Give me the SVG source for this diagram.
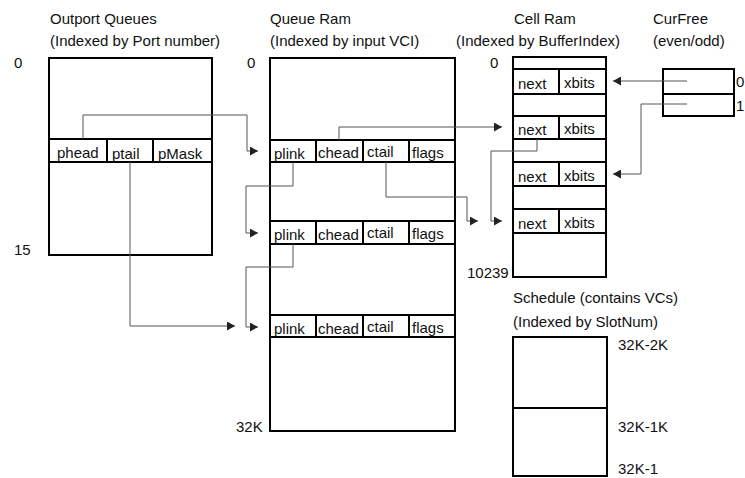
<svg xmlns="http://www.w3.org/2000/svg" width="745" height="478" viewBox="0 0 745 478">
<defs>
<marker id="arr" markerWidth="9" markerHeight="9" refX="8" refY="4.5" orient="auto" markerUnits="userSpaceOnUse">
<path d="M0,0 L8,4.5 L0,9 Z" fill="#222"/>
</marker>
</defs>
<style>
text{font-family:"Liberation Sans",Arial,sans-serif;font-size:15px;fill:#111}
.box{fill:#fff;stroke:#000;stroke-width:2}
.cell{fill:none;stroke:#000;stroke-width:2}
.con{fill:none;stroke:#555;stroke-width:1}
</style>
<rect width="745" height="478" fill="#fff"/>

<g id="outport">
<text x="50" y="24">Outport Queues</text>
<text x="50" y="46">(Indexed by Port number)</text>
<text x="14" y="68">0</text>
<text x="14" y="255">15</text>
<rect class="box" x="49" y="58" width="163" height="197"/>
<rect class="cell" x="49" y="139" width="163" height="23"/>
<line class="cell" x1="107" y1="139" x2="107" y2="162"/>
<line class="cell" x1="153" y1="139" x2="153" y2="162"/>
<text x="57" y="158">phead</text>
<text x="112" y="159">ptail</text>
<text x="158" y="159">pMask</text>
</g>

<g id="queueram">
<text x="270" y="24">Queue Ram</text>
<text x="270" y="46">(Indexed by input VCI)</text>
<text x="247" y="68">0</text>
<text x="236" y="432">32K</text>
<rect class="box" x="270" y="58" width="185" height="373"/>
<g>
<rect class="cell" x="270" y="140" width="185" height="22"/>
<line class="cell" x1="316" y1="140" x2="316" y2="162"/>
<line class="cell" x1="363" y1="140" x2="363" y2="162"/>
<line class="cell" x1="409" y1="140" x2="409" y2="162"/>
<text x="274" y="159">plink</text>
<text x="318" y="158">chead</text>
<text x="367" y="157">ctail</text>
<text x="412" y="158">flags</text>
</g>
<g>
<rect class="cell" x="270" y="221" width="185" height="23"/>
<line class="cell" x1="316" y1="221" x2="316" y2="244"/>
<line class="cell" x1="363" y1="221" x2="363" y2="244"/>
<line class="cell" x1="409" y1="221" x2="409" y2="244"/>
<text x="274" y="240">plink</text>
<text x="318" y="240">chead</text>
<text x="367" y="238">ctail</text>
<text x="412" y="239">flags</text>
</g>
<g>
<rect class="cell" x="270" y="315" width="185" height="22"/>
<line class="cell" x1="316" y1="315" x2="316" y2="337"/>
<line class="cell" x1="363" y1="315" x2="363" y2="337"/>
<line class="cell" x1="409" y1="315" x2="409" y2="337"/>
<text x="274" y="334">plink</text>
<text x="318" y="334">chead</text>
<text x="367" y="332">ctail</text>
<text x="412" y="333">flags</text>
</g>
</g>

<g id="cellram">
<text x="514" y="24">Cell Ram</text>
<text x="456" y="46">(Indexed by BufferIndex)</text>
<text x="490" y="68">0</text>
<text x="467" y="278">10239</text>
<rect class="box" x="513" y="57" width="93" height="220"/>
<rect class="cell" x="513" y="69" width="93" height="25"/>
<line class="cell" x1="559" y1="69" x2="559" y2="94"/>
<text x="518" y="89">next</text>
<text x="564" y="88">xbits</text>
<rect class="cell" x="513" y="116" width="93" height="23"/>
<line class="cell" x1="559" y1="116" x2="559" y2="139"/>
<text x="518" y="135">next</text>
<text x="564" y="134">xbits</text>
<rect class="cell" x="513" y="162" width="93" height="24"/>
<line class="cell" x1="559" y1="162" x2="559" y2="186"/>
<text x="518" y="182">next</text>
<text x="564" y="181">xbits</text>
<rect class="cell" x="513" y="209" width="93" height="24"/>
<line class="cell" x1="559" y1="209" x2="559" y2="233"/>
<text x="518" y="229">next</text>
<text x="564" y="228">xbits</text>
</g>

<g id="curfree">
<text x="653" y="24">CurFree</text>
<text x="653" y="46">(even/odd)</text>
<rect class="box" x="663" y="69" width="71" height="47"/>
<line class="cell" x1="663" y1="94" x2="734" y2="94"/>
<text x="736" y="87">0</text>
<text x="736" y="111">1</text>
</g>

<g id="schedule">
<text x="513" y="303">Schedule (contains VCs)</text>
<text x="513" y="327">(Indexed by SlotNum)</text>
<rect class="box" x="513" y="337" width="94" height="139"/>
<line class="cell" x1="513" y1="408" x2="607" y2="408"/>
<text x="618" y="350">32K-2K</text>
<text x="618" y="432">32K-1K</text>
<text x="618" y="474">32K-1</text>
</g>

<g id="connectors">
<path class="con" d="M83,139 V115 H247 V151 H258" marker-end="url(#arr)"/>
<path class="con" d="M339,140 V127 H502" marker-end="url(#arr)"/>
<path class="con" d="M386,162 V197 H467 V221 H478" marker-end="url(#arr)"/>
<path class="con" d="M537,139 V151 H491 V221 H502" marker-end="url(#arr)"/>
<path class="con" d="M293,162 V186 H246 V233 H258" marker-end="url(#arr)"/>
<path class="con" d="M293,244 V267 H246 V327 H258" marker-end="url(#arr)"/>
<path class="con" d="M130,162 V326 H235" marker-end="url(#arr)"/>
<path class="con" d="M687,81 H613" marker-end="url(#arr)"/>
<path class="con" d="M687,104 H641 V174 H613" marker-end="url(#arr)"/>
</g>
</svg>
